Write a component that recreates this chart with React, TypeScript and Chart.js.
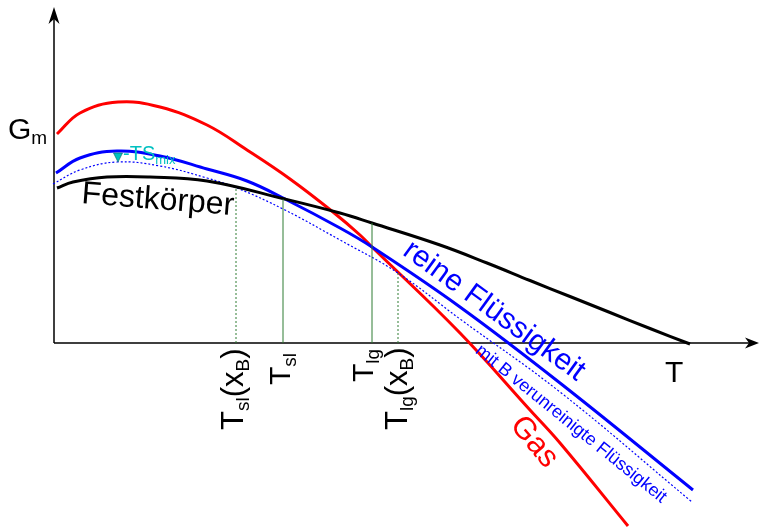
import React, { useEffect, useRef } from "react";
import { Chart, registerables } from "chart.js";

Chart.register(...registerables);

// ---- data (T: temperature units, G: free enthalpy units; origin at axis crossing) ----
const gasT = [0.3, 2.6, 6.4, 10.6, 15.3, 19.3, 23.6, 27.9, 30.6, 31.8, 40.6, 47.6, 50.6, 57.4];
const gasG = [20.9, 23.0, 24.1, 23.6, 21.8, 19.3, 16.4, 13.1, 10.8, 9.6, 1.0, -6.7, -10.0, -18.3];

const liqT = [0.2, 2.6, 6.3, 10.6, 15.3, 19.3, 23.1, 28.6, 31.8, 40.6, 50.6, 63.9];
const liqG = [17.0, 18.5, 19.2, 18.7, 17.4, 16.2, 14.4, 11.5, 9.6, 3.6, -4.0, -14.7];

const mixT = [-0.1, 2.6, 6.3, 10.6, 15.3, 18.3, 23.1, 28.6, 34.4, 40.6, 50.6, 63.8];
const mixG = [15.9, 17.3, 18.1, 17.7, 16.5, 15.5, 13.3, 10.3, 7.0, 2.4, -4.9, -15.9];

const solT = [0.3, 1.9, 5.3, 9.6, 15.3, 23.1, 28.6, 31.8, 38.6, 43.3, 47.6, 51.6, 55.6, 59.6, 63.6];
const solG = [15.5, 16.1, 16.6, 16.6, 16.2, 14.4, 13.0, 12.0, 9.8, 8.0, 6.25, 4.65, 3.05, 1.45, -0.1];

// vertical marker lines: temperature, top value, dashed?
const markT = [18.2, 22.9, 31.8, 34.4];
const markTop = [15.5, 14.4, 12.0, 7.0];
const markDashed = [true, false, false, true];

const X_MIN = -5.4;
const X_MAX = 70.6;
const Y_MIN = -18.4;
const Y_MAX = 34.3;
const X_AXIS_END = 70.5;
const Y_AXIS_END = 33.6;

const FONT = '"Liberation Sans", Arial, Helvetica, sans-serif';
const RED = "#ff0000";
const BLUE = "#0000ff";
const GREEN = "#2e7d32";
const CYAN = "#00c0c0";

type Part = { t: string; size: number; dy?: number };
type Label = {
  parts: Part[];
  x: number;
  y: number;
  angle: number;
  color: string;
  align: "left" | "center";
  baseline: CanvasTextBaseline;
};

const labels: Label[] = [
  { parts: [{ t: "G", size: 30 }, { t: "m", size: 19, dy: 5 }], x: -4.6, y: 20.4, angle: 0, color: "#000", align: "left", baseline: "alphabetic" },
  { parts: [{ t: "Festkörper", size: 32 }], x: 2.7, y: 14.0, angle: 4.5, color: "#000", align: "left", baseline: "alphabetic" },
  { parts: [{ t: "-TS", size: 20 }, { t: "mix", size: 13, dy: 4 }], x: 6.9, y: 18.3, angle: 0, color: CYAN, align: "left", baseline: "alphabetic" },
  { parts: [{ t: "reine Flüssigkeit", size: 30 }], x: 44.0, y: 3.2, angle: 36, color: BLUE, align: "center", baseline: "middle" },
  { parts: [{ t: "mit B verunreinigte Flüssigkeit", size: 18 }], x: 51.7, y: -8.1, angle: 39, color: BLUE, align: "center", baseline: "middle" },
  { parts: [{ t: "Gas", size: 31 }], x: 48.0, y: -9.9, angle: 50, color: RED, align: "center", baseline: "middle" },
  { parts: [{ t: "T", size: 30 }], x: 61.1, y: -3.9, angle: 0, color: "#000", align: "left", baseline: "alphabetic" },
  { parts: [{ t: "T", size: 31 }, { t: "sl", size: 19, dy: 6 }, { t: "(x", size: 31 }, { t: "B", size: 19, dy: 6 }, { t: ")", size: 31 }], x: 18.9, y: -8.7, angle: -90, color: "#000", align: "left", baseline: "alphabetic" },
  { parts: [{ t: "T", size: 30 }, { t: "sl", size: 19, dy: 6 }], x: 23.6, y: -4.2, angle: -90, color: "#000", align: "left", baseline: "alphabetic" },
  { parts: [{ t: "T", size: 30 }, { t: "lg", size: 19, dy: 6 }], x: 31.9, y: -3.9, angle: -90, color: "#000", align: "left", baseline: "alphabetic" },
  { parts: [{ t: "T", size: 31 }, { t: "lg", size: 19, dy: 6 }, { t: "(x", size: 31 }, { t: "B", size: 19, dy: 6 }, { t: ")", size: 31 }], x: 35.3, y: -8.7, angle: -90, color: "#000", align: "left", baseline: "alphabetic" },
];

// marker triangle (∇) for -TS_mix, in data units
const triT = 6.4;
const triTop = 19.0;
const triTip = 18.1;

function zip(xs: number[], ys: number[]) {
  return xs.map((x, i) => ({ x, y: ys[i] }));
}

function drawRich(ctx: CanvasRenderingContext2D, parts: Part[], align: "left" | "center") {
  let total = 0;
  for (const p of parts) {
    ctx.font = `${p.size}px ${FONT}`;
    total += ctx.measureText(p.t).width;
  }
  let cx = align === "center" ? -total / 2 : 0;
  ctx.textAlign = "left";
  for (const p of parts) {
    ctx.font = `${p.size}px ${FONT}`;
    ctx.fillText(p.t, cx, p.dy || 0);
    cx += ctx.measureText(p.t).width;
  }
}

function arrow(ctx: CanvasRenderingContext2D, tx: number, ty: number, dx: number, dy: number, len: number, half: number, notch: number) {
  const px = -dy;
  const py = dx;
  ctx.beginPath();
  ctx.moveTo(tx, ty);
  ctx.lineTo(tx - dx * len + px * half, ty - dy * len + py * half);
  ctx.lineTo(tx - dx * notch, ty - dy * notch);
  ctx.lineTo(tx - dx * len - px * half, ty - dy * len - py * half);
  ctx.closePath();
  ctx.fill();
}

const decorPlugin = {
  id: "decor",
  beforeDatasetsDraw(chart: any) {
    const { ctx } = chart;
    const xs = chart.scales.x;
    const ys = chart.scales.y;
    const ox = xs.getPixelForValue(0);
    const oy = ys.getPixelForValue(0);
    const xe = xs.getPixelForValue(X_AXIS_END);
    const ye = ys.getPixelForValue(Y_AXIS_END);
    ctx.save();
    ctx.strokeStyle = "#000";
    ctx.fillStyle = "#000";
    ctx.lineWidth = 1.5;
    ctx.beginPath();
    ctx.moveTo(ox, oy);
    ctx.lineTo(xe - 6, oy);
    ctx.moveTo(ox, oy);
    ctx.lineTo(ox, ye + 8);
    ctx.stroke();
    arrow(ctx, xe, oy, 1, 0, 14, 5.5, 10);
    arrow(ctx, ox, ye, 0, -1, 17, 5.5, 12);
    ctx.restore();
  },
  afterDatasetsDraw(chart: any) {
    const { ctx } = chart;
    const xs = chart.scales.x;
    const ys = chart.scales.y;
    ctx.save();
    for (const l of labels) {
      ctx.save();
      ctx.translate(xs.getPixelForValue(l.x), ys.getPixelForValue(l.y));
      ctx.rotate((l.angle * Math.PI) / 180);
      ctx.fillStyle = l.color;
      ctx.textBaseline = l.baseline;
      drawRich(ctx, l.parts, l.align);
      ctx.restore();
    }
    const tx = xs.getPixelForValue(triT);
    const t1 = ys.getPixelForValue(triTop);
    const t2 = ys.getPixelForValue(triTip);
    ctx.beginPath();
    ctx.moveTo(tx - 4.5, t1);
    ctx.lineTo(tx + 4.5, t1);
    ctx.lineTo(tx, t2);
    ctx.closePath();
    ctx.fillStyle = CYAN;
    ctx.fill();
    ctx.strokeStyle = "#006060";
    ctx.lineWidth = 0.6;
    ctx.stroke();
    ctx.restore();
  },
};

export default function App() {
  const ref = useRef<HTMLCanvasElement | null>(null);

  useEffect(() => {
    if (!ref.current) return;
    const markSets = markT.map((t, i) => ({
      label: "mark" + i,
      data: [{ x: t, y: 0 }, { x: t, y: markTop[i] }],
      borderColor: GREEN,
      borderWidth: 1,
      borderDash: markDashed[i] ? [2, 2] : [],
      pointRadius: 0,
      fill: false,
      tension: 0,
    }));
    const curve = { pointRadius: 0, fill: false, tension: 0.4 };
    const chart = new Chart(ref.current, {
      type: "line",
      data: {
        datasets: [
          ...markSets,
          { label: "Festkörper", data: zip(solT, solG), borderColor: "#000", borderWidth: 3, ...curve },
          { label: "mit B verunreinigte Flüssigkeit", data: zip(mixT, mixG), borderColor: BLUE, borderWidth: 1.2, borderDash: [2, 2], ...curve },
          { label: "reine Flüssigkeit", data: zip(liqT, liqG), borderColor: BLUE, borderWidth: 3, ...curve },
          { label: "Gas", data: zip(gasT, gasG), borderColor: RED, borderWidth: 3, ...curve },
        ] as any,
      },
      options: {
        responsive: false,
        animation: false,
        events: [],
        layout: { padding: 0 },
        plugins: { legend: { display: false }, tooltip: { enabled: false } },
        scales: {
          x: { type: "linear", min: X_MIN, max: X_MAX, display: false },
          y: { type: "linear", min: Y_MIN, max: Y_MAX, display: false },
        },
      },
      plugins: [decorPlugin],
    });
    return () => chart.destroy();
  }, []);

  return (
    <div style={{ position: "fixed", left: 0, top: 0, width: 760, height: 527, background: "#fff" }}>
      <canvas ref={ref} width={760} height={527} style={{ display: "block", width: 760, height: 527 }} />
    </div>
  );
}
